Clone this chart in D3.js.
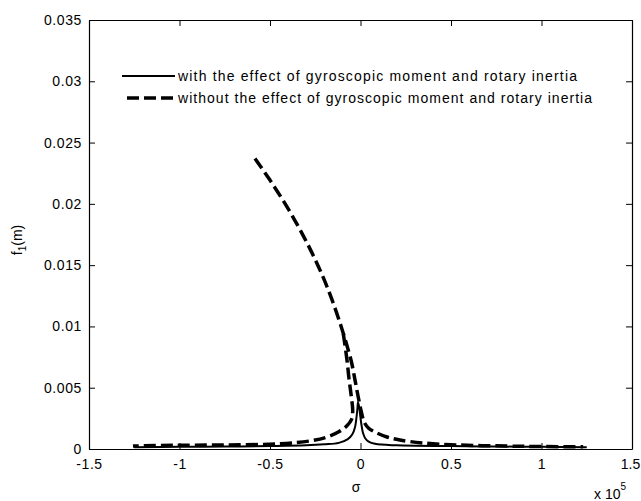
<!DOCTYPE html>
<html>
<head>
<meta charset="utf-8">
<script src="https://cdn.jsdelivr.net/npm/d3@7"></script>
<style>
  html, body { margin: 0; padding: 0; background: #fff; }
  svg { display: block; font-family: "Liberation Sans", Arial, sans-serif; }
</style>
</head>
<body>
<svg id="chart" width="641" height="501"></svg>
<script>
// ---- data (sigma in units of 1e5) ----
const xTicks = [-1.5, -1, -0.5, 0, 0.5, 1, 1.5];
const xTickLabels = ["-1.5", "-1", "-0.5", "0", "0.5", "1", "1.5"];
const yTicks = [0, 0.005, 0.01, 0.015, 0.02, 0.025, 0.03, 0.035];
const yTickLabels = ["0", "0.005", "0.01", "0.015", "0.02", "0.025", "0.03", "0.035"];

// with gyroscopic moment and rotary inertia (solid)
const solidSigma = [-1.25, -1.0, -0.75, -0.5, -0.3, -0.2, -0.12, -0.07, -0.045, -0.03, -0.022, -0.017, -0.014, -0.008, -0.003, 0.004, 0.014, 0.025, 0.045, 0.08, 0.2, 0.5, 0.75, 1.0, 1.25];
const solidF     = [0.00015, 0.00018, 0.0002, 0.00024, 0.0003, 0.00038, 0.0005, 0.0008, 0.0012, 0.0018, 0.0026, 0.0033, 0.0038, 0.0035, 0.0029, 0.0021, 0.0013, 0.0009, 0.0006, 0.00042, 0.0003, 0.00024, 0.0002, 0.00018, 0.00015];

// without the effect (dashed) - upper branch continuing to the right tail
const dashUpperSigma = [-0.583, -0.503, -0.416, -0.338, -0.268, -0.206, -0.153, -0.107, -0.08, -0.05, -0.03, -0.012, 0.005, 0.02, 0.045, 0.075, 0.146, 0.218, 0.345, 0.533, 0.81, 1.0, 1.23];
const dashUpperF     = [0.0237, 0.022, 0.020, 0.018, 0.016, 0.014, 0.012, 0.010, 0.0087, 0.0071, 0.0056, 0.0042, 0.003, 0.0022, 0.0017, 0.00142, 0.00098, 0.00073, 0.00049, 0.00033, 0.00024, 0.0002, 0.00018];

// without the effect (dashed) - inner branch continuing to the left tail
const dashLowerSigma = [-0.095, -0.075, -0.064, -0.051, -0.043, -0.05, -0.075, -0.12, -0.18, -0.27, -0.45, -0.76, -1.04, -1.257];
const dashLowerF     = [0.0094, 0.0073, 0.0058, 0.0043, 0.0031, 0.0024, 0.0019, 0.0014, 0.001, 0.00068, 0.00042, 0.00033, 0.0003, 0.00024];

const legendLabels = [
  "with the effect of gyroscopic moment and rotary inertia",
  "without the effect of gyroscopic moment and rotary inertia"
];

// ---- layout ----
const svg = d3.select("#chart");
const pL = 89, pR = 632, pT = 20, pB = 449;

const x = d3.scaleLinear().domain([-1.5, 1.5]).range([pL, pR]);
const y = d3.scaleLinear().domain([0, 0.035]).range([pB, pT]);

const tickLen = 6;
const axisColor = "#000";

svg.append("defs").append("clipPath").attr("id", "clip")
  .append("rect").attr("x", pL).attr("y", pT).attr("width", pR - pL).attr("height", pB - pT);

const lineC = d3.line().x(d => x(d[0])).y(d => y(d[1])).curve(d3.curveCatmullRom.alpha(0.5));

const g = svg.append("g").attr("clip-path", "url(#clip)");

g.append("path")
  .datum(dashUpperSigma.map((s, i) => [s, dashUpperF[i]]))
  .attr("d", lineC)
  .attr("fill", "none").attr("stroke", "#000").attr("stroke-width", 3.5)
  .attr("stroke-dasharray", "12,5");

g.append("path")
  .datum(dashLowerSigma.map((s, i) => [s, dashLowerF[i]]))
  .attr("d", lineC)
  .attr("fill", "none").attr("stroke", "#000").attr("stroke-width", 3.5)
  .attr("stroke-dasharray", "12,5");

g.append("path")
  .datum(solidSigma.map((s, i) => [s, solidF[i]]))
  .attr("d", lineC)
  .attr("fill", "none").attr("stroke", "#000").attr("stroke-width", 2);

const xAxisB = d3.axisBottom(x).tickValues(xTicks).tickFormat((d, i) => xTickLabels[i]).tickSizeInner(-tickLen).tickSizeOuter(0).tickPadding(10);
const xAxisT = d3.axisTop(x).tickValues(xTicks).tickFormat("").tickSizeInner(-tickLen).tickSizeOuter(0);
const yAxisL = d3.axisLeft(y).tickValues(yTicks).tickFormat((d, i) => yTickLabels[i]).tickSizeInner(-tickLen).tickSizeOuter(0).tickPadding(7);
const yAxisR = d3.axisRight(y).tickValues(yTicks).tickFormat("").tickSizeInner(-tickLen).tickSizeOuter(0);

function styleAxis(sel) {
  sel.attr("font-family", null).attr("font-size", null);
  sel.select(".domain").attr("stroke", axisColor).attr("stroke-width", 1.2);
  sel.selectAll(".tick line").attr("stroke", axisColor).attr("stroke-width", 1);
  sel.selectAll(".tick text").attr("fill", "#000").style("font-size", "14px").style("letter-spacing", "0.6px");
}

const xb = svg.append("g").attr("transform", `translate(0,${pB})`).call(xAxisB).call(styleAxis);
// last label sits at the window edge, as in the reference; keep it inside
xb.selectAll(".tick text").filter(d => d === 1.5).style("letter-spacing", "0px").attr("dx", -2);
svg.append("g").attr("transform", `translate(0,${pT})`).call(xAxisT).call(styleAxis);
svg.append("g").attr("transform", `translate(${pL},0)`).call(yAxisL).call(styleAxis);
svg.append("g").attr("transform", `translate(${pR},0)`).call(yAxisR).call(styleAxis);

svg.append("text").attr("x", 356).attr("y", 492).attr("text-anchor", "middle")
  .style("font-size", "14px").text("σ");

const yl = svg.append("text").attr("transform", "translate(22,240) rotate(-90)")
  .attr("text-anchor", "middle").style("font-size", "14px");
yl.append("tspan").text("f");
yl.append("tspan").attr("dy", 4).style("font-size", "10px").text("1");
yl.append("tspan").attr("dy", -4).text("(m)");

const ex = svg.append("text").attr("x", 594).attr("y", 499).style("font-size", "14px");
ex.append("tspan").text("x 10");
ex.append("tspan").attr("dy", -9).style("font-size", "10px").text("5");

const legY = [76, 98];
const leg = svg.append("g");
leg.append("line").attr("x1", 122).attr("x2", 175).attr("y1", legY[0]).attr("y2", legY[0])
  .attr("stroke", "#000").attr("stroke-width", 2);
leg.append("line").attr("x1", 127).attr("x2", 175).attr("y1", legY[1]).attr("y2", legY[1])
  .attr("stroke", "#000").attr("stroke-width", 3.5).attr("stroke-dasharray", "12,5");
legendLabels.forEach((t, i) => {
  leg.append("text").attr("x", 178).attr("y", legY[i] + 5)
    .style("font-size", "14px")
    .attr("textLength", i === 0 ? 399 : 414).attr("lengthAdjust", "spacing")
    .text(t);
});
</script>
</body>
</html>
